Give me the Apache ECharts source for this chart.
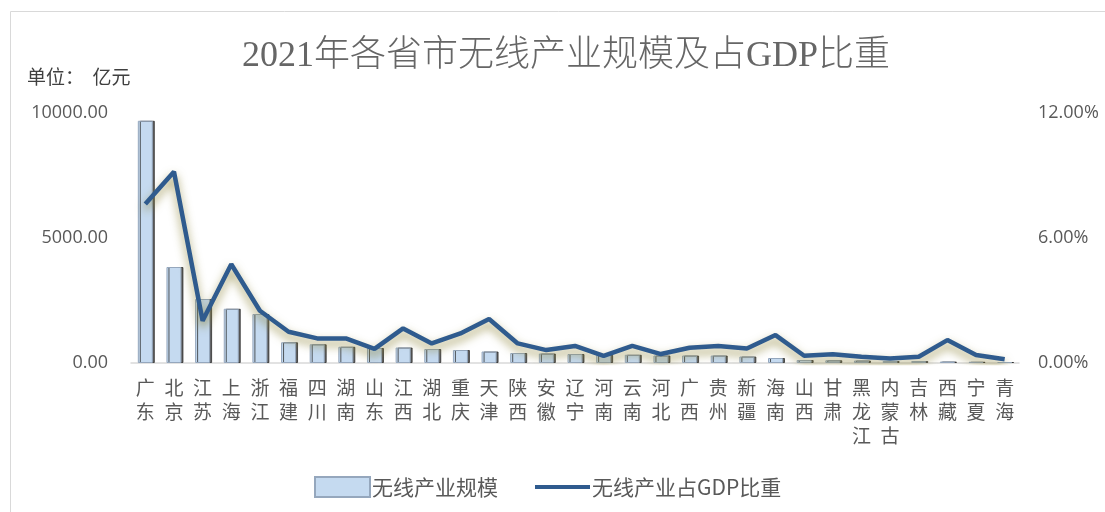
<!DOCTYPE html>
<html>
<head>
<meta charset="utf-8">
<script src="https://cdn.jsdelivr.net/npm/echarts@6/dist/echarts.min.js"></script>
<style>
  html, body { margin: 0; padding: 0; background: #fff; }
  #chart { width: 1105px; height: 512px; }
</style>
</head>
<body>
<div id="chart"></div>
<script>
// 省市
const provinces = ['广东', '北京', '江苏', '上海', '浙江', '福建', '四川', '湖南', '山东', '江西',
  '湖北', '重庆', '天津', '陕西', '安徽', '辽宁', '河南', '云南', '河北', '广西',
  '贵州', '新疆', '海南', '山西', '甘肃', '黑龙江', '内蒙古', '吉林', '西藏', '宁夏', '青海'];
// 无线产业规模（亿元）
const scale = [9690, 3840, 2560, 2170, 1960, 830, 750, 650, 600, 620,
  560, 520, 460, 400, 380, 360, 330, 330, 300, 300,
  300, 260, 200, 120, 110, 100, 80, 80, 60, 50, 40];
// 占GDP比重（%）
const gdpShare = [7.63, 9.18, 2.03, 4.74, 2.51, 1.50, 1.18, 1.18, 0.68, 1.66,
  0.94, 1.42, 2.11, 0.94, 0.62, 0.82, 0.34, 0.82, 0.43, 0.73,
  0.82, 0.70, 1.34, 0.35, 0.42, 0.30, 0.22, 0.30, 1.10, 0.38, 0.18];
const leftTicks = [0, 5000, 10000];
const rightTicks = [0, 6, 12];

const chart = echarts.init(document.getElementById('chart'));
const cjk = '"Noto Sans CJK SC", "Noto Sans", sans-serif';

const option = {
  animation: false,
  title: {
    text: '2021年各省市无线产业规模及占GDP比重',
    left: 237,
    top: 34,
    textStyle: {
      fontFamily: '"Liberation Serif", "Noto Sans CJK SC", serif',
      fontSize: 36,
      fontWeight: 300,
      color: '#666666'
    }
  },
  graphic: [
    {
      type: 'rect',
      shape: { x: 10.5, y: 11.5, width: 1110, height: 520 },
      style: { fill: 'none', stroke: '#d9d9d9', lineWidth: 1 },
      silent: true
    },
    {
      type: 'text',
      x: 27,
      y: 67,
      style: {
        text: '单位：  亿元',
        fontSize: 19,
        fontFamily: cjk,
        fill: '#404040'
      }
    }
  ],
  legend: {
    left: 309,
    top: 471,
    itemWidth: 55,
    itemHeight: 20,
    itemGap: 37,
    textStyle: { fontFamily: cjk, fontSize: 21, color: '#595959', padding: [0, 0, 0, -3] },
    data: [
      { name: '无线产业规模', icon: 'rect' },
      { name: '无线产业占GDP比重', icon: 'path://M0,0L52,0L52,4L0,4Z' }
    ]
  },
  grid: { left: 131, right: 86, top: 113, bottom: 149 },
  xAxis: {
    type: 'category',
    data: provinces,
    axisLine: { lineStyle: { color: '#d9d9d9', width: 1.5 } },
    axisTick: { show: false },
    axisLabel: {
      interval: 0,
      margin: 13,
      fontFamily: cjk,
      fontSize: 19,
      lineHeight: 24,
      color: '#595959',
      formatter: v => v.split('').join('\n')
    }
  },
  yAxis: [
    {
      type: 'value',
      min: leftTicks[0],
      max: leftTicks[leftTicks.length - 1],
      interval: leftTicks[1] - leftTicks[0],
      splitLine: { show: false },
      axisLine: { show: false },
      axisLabel: {
        margin: 23,
        fontFamily: '"Open Sans", sans-serif',
        fontSize: 18,
        color: '#595959',
        formatter: v => v.toFixed(2)
      }
    },
    {
      type: 'value',
      min: rightTicks[0],
      max: rightTicks[rightTicks.length - 1],
      interval: rightTicks[1] - rightTicks[0],
      splitLine: { show: false },
      axisLine: { show: false },
      axisLabel: {
        margin: 19,
        fontFamily: '"Open Sans", sans-serif',
        fontSize: 18,
        color: '#595959',
        formatter: v => v.toFixed(2) + '%'
      }
    }
  ],
  series: [
    {
      name: '无线产业规模',
      type: 'bar',
      data: scale,
      barWidth: 15,
      itemStyle: {
        color: '#c5daf0',
        borderColor: '#95a7bd',
        borderWidth: 1,
        shadowColor: 'rgba(40,40,40,0.75)',
        shadowOffsetX: 2,
        shadowOffsetY: 0,
        shadowBlur: 0
      }
    },
    {
      name: '无线产业占GDP比重',
      type: 'line',
      yAxisIndex: 1,
      data: gdpShare,
      symbol: 'none',
      lineStyle: {
        color: '#2f5b8e',
        width: 4.5,
        shadowColor: 'rgba(135,125,45,0.75)',
        shadowBlur: 10,
        shadowOffsetY: 5
      },
      itemStyle: { color: '#2f5b8e' }
    }
  ]
};

chart.setOption(option);
</script>
</body>
</html>
